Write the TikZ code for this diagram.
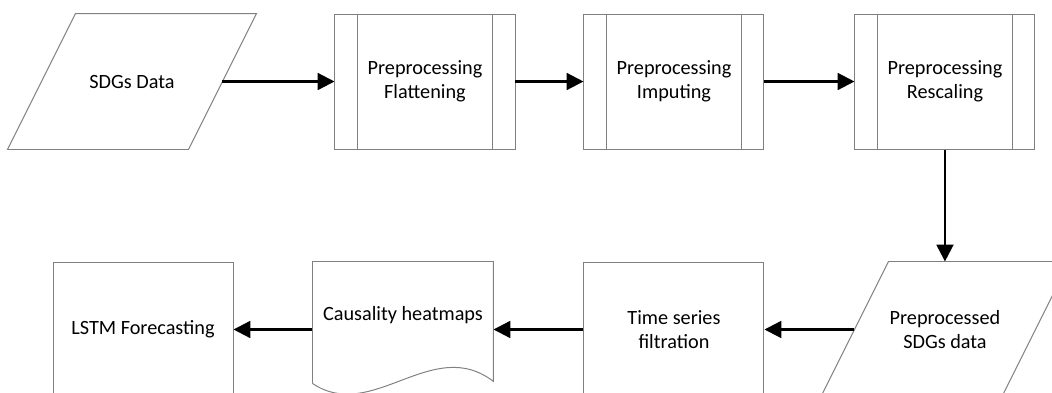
\documentclass[tikz,border=0pt]{standalone}
\usepackage{fontspec}
\setmainfont{Carlito}
\usetikzlibrary{arrows.meta,positioning}
\definecolor{boxgray}{RGB}{128,128,128}
\tikzset{
	procbox/.style={rectangle, draw=boxgray, line width=0.7pt, minimum width=4.5cm,
		minimum height=3.375cm, align=center, font=\fontsize{14.4}{16.8}\selectfont, inner sep=2pt},
	subbox/.style={procbox, path picture={
			\draw[boxgray, line width=0.7pt] ([xshift=0.56cm]path picture bounding box.north west) -- ([xshift=0.56cm]path picture bounding box.south west);
			\draw[boxgray, line width=0.7pt] ([xshift=-0.56cm]path picture bounding box.north east) -- ([xshift=-0.56cm]path picture bounding box.south east);}},
	databox/.style={procbox, draw=none},
	docbox/.style={procbox, draw=none, text depth=0.8cm},
	outline/.style={boxgray, line width=0.7pt, line join=miter},
	flowarr/.style={-{Triangle[length=0.42cm, width=0.42cm]}, line width=1.6pt}
}

\begin{document}
\begin{tikzpicture}[node distance=2.8cm and 1.7cm]
	\useasboundingbox (0,0) rectangle (26.3,-9.8);
	\clip (0,0) rectangle (26.3,-9.8);
	\node[databox] (sdg) at (3.3,-2.0375) {SDGs Data};
	\node[subbox, right=2.8cm of sdg] (flat) {Preprocessing\\Flattening};
	\node[subbox, right=1.7cm of flat] (imput) {Preprocessing\\Imputing};
	\node[subbox, right=2.25cm of imput] (resc) {Preprocessing\\Rescaling};
	\node[databox, below=2.8cm of resc] (ppdata) {Preprocessed\\SDGs data};
	\node[procbox, left=2.25cm of ppdata] (tsf) {Time series\\filtration};
	\node[docbox, left=2.25cm of tsf] (caus) {Causality heatmaps};
	\node[procbox, left=1.975cm of caus] (lstm) {LSTM Forecasting};
	% slanted data shapes
	\foreach \n in {sdg,ppdata}
		\draw[outline] ([xshift=0.85cm]\n.north west) -- ([xshift=0.85cm]\n.north east)
			-- ([xshift=-0.85cm]\n.south east) -- ([xshift=-0.85cm]\n.south west) -- cycle;
	% wavy document outline
	\draw[outline] ([yshift=0.35cm]caus.south west) -- (caus.north west) -- (caus.north east)
		-- ([yshift=0.4cm]caus.south east)
		.. controls ([xshift=3cm,yshift=1.575cm]caus.south west) and ([xshift=1.5cm,yshift=-0.65cm]caus.south west)
		.. ([yshift=0.35cm]caus.south west);
	\draw[flowarr] (sdg)--(flat);
	\draw[flowarr] (flat)--(imput);
	\draw[flowarr] (imput)--(resc);
	\draw[flowarr] (resc)--(ppdata);
	\draw[flowarr] (ppdata)--(tsf);
	\draw[flowarr] (tsf)--(caus);
	\draw[flowarr] (caus)--(lstm);
\end{tikzpicture}
\end{document}
